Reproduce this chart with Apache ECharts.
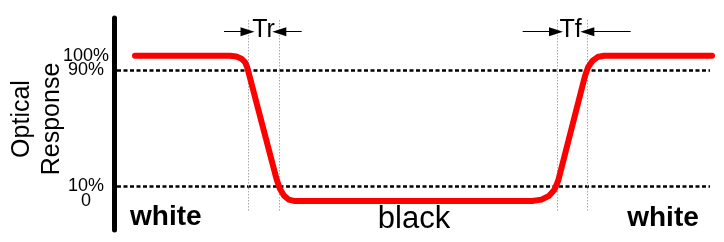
<!DOCTYPE html>
<html>
<head>
<meta charset="utf-8">
<script src="https://cdn.jsdelivr.net/npm/echarts@6/dist/echarts.min.js"></script>
<style>
html,body{margin:0;padding:0;background:#fff;}
#chart{width:724px;height:242px;}
</style>
</head>
<body>
<div id="chart"></div>
<script>
// Optical response (%) over time (arbitrary units)
var responseTime = [21, 116, 122.4, 127.4, 131, 133.2, 162.6, 165.9, 169.9, 174.6, 180, 418, 427.5, 435, 440.6, 444.2, 471, 474.1, 478.4, 483.6, 490, 598];
var responseValue = [100, 100, 99.5, 98, 95.6, 92.1, 15, 8.4, 3.75, 0.94, 0, 0, 0.9, 3.5, 7.9, 14, 86, 92.1, 96.5, 99.1, 100, 100];

var levelValues = [90, 10];          // dashed reference levels
var levelRange = [3, 596];           // x extent of the dashed levels
var edgeTimes = [134, 165, 443, 473]; // 90% / 10% crossing times
var edgeRange = [124.6, -7.6];       // y extent of the thin edge markers

// tick labels (split over two overlaid axes so none gets hidden)
var yTickValuesA = [0, 90];
var yTickLabelsA = ['0', '90%'];
var yTickValuesB = [10, 100];
var yTickLabelsB = ['10%', '100%'];

var arrowY = 116.6;
var arrowSpans = [[110, 133.5], [187.7, 165.3], [408.7, 442], [516.7, 473.3]];

var axisTitleLines = ['Optical', 'Response'];
var periodLabels = ['white', 'black', 'white'];
var timingLabels = ['Tr', 'Tf'];

var curve = responseTime.map(function (t, i) { return [t, responseValue[i]]; });

var levelLines = levelValues.map(function (v) {
  return [{ coord: [levelRange[0], v] }, { coord: [levelRange[1], v] }];
});
var edgeLines = edgeTimes.map(function (t) {
  return [{ coord: [t, edgeRange[0]] }, { coord: [t, edgeRange[1]] }];
});
var arrowLines = arrowSpans.map(function (s) {
  return [{ coord: [s[0], arrowY] }, { coord: [s[1], arrowY] }];
});

var chart = echarts.init(document.getElementById('chart'), null, { renderer: 'canvas' });
var FONT = 'Liberation Sans, Arial, sans-serif';

function labelCfg(values, labels) {
  return {
    customValues: values,
    hideOverlap: false, showMinLabel: true, showMaxLabel: true,
    margin: 28, align: 'center',
    color: '#000', fontSize: 18, fontFamily: FONT,
    formatter: function (v) { return labels[values.indexOf(v)]; }
  };
}

chart.setOption({
  animation: false,
  backgroundColor: '#fff',
  grid: { left: 114, top: 18, width: 600, height: 212, containLabel: false, outerBoundsMode: 'none' },
  xAxis: { type: 'value', min: 0, max: 600, show: false },
  yAxis: [
    {
      type: 'value', min: -20, max: 126, position: 'left',
      axisLine: { show: true, lineStyle: { color: '#000', width: 5 } },
      axisTick: { show: false },
      splitLine: { show: false },
      axisLabel: labelCfg(yTickValuesA, yTickLabelsA)
    },
    {
      type: 'value', min: -20, max: 126, position: 'left', offset: 0,
      axisLine: { show: false },
      axisTick: { show: false },
      splitLine: { show: false },
      axisLabel: labelCfg(yTickValuesB, yTickLabelsB)
    }
  ],
  series: [
    {
      type: 'line', data: [], z: 1, silent: true,
      markLine: {
        silent: true, symbol: ['none', 'none'], label: { show: false },
        lineStyle: { color: '#000', width: 2.5, type: [4, 2.5] },
        data: levelLines
      }
    },
    {
      type: 'line', data: [], z: 1, silent: true,
      markLine: {
        silent: true, symbol: ['none', 'none'], label: { show: false },
        lineStyle: { color: '#a8a8a8', width: 1, type: [1.5, 1.5] },
        data: edgeLines
      }
    },
    {
      type: 'line', data: [], z: 1, silent: true,
      markLine: {
        silent: true, symbol: ['none', 'triangle'], symbolSize: [9, 14],
        label: { show: false },
        lineStyle: { color: '#000', width: 1, type: 'solid' },
        itemStyle: { color: '#000' },
        data: arrowLines
      }
    },
    {
      type: 'line', data: curve, z: 5, silent: true,
      showSymbol: false, symbol: 'none',
      smooth: false,
      lineStyle: { color: '#ff0000', width: 6, cap: 'round', join: 'round' }
    }
  ],
  graphic: [
    { type: 'text', x: 22.5, y: 119, rotation: Math.PI / 2, style: { x: 0, y: 0, text: axisTitleLines[0], font: '25px ' + FONT, fill: '#000', textAlign: 'center', textVerticalAlign: 'middle' } },
    { type: 'text', x: 52.5, y: 119, rotation: Math.PI / 2, style: { x: 0, y: 0, text: axisTitleLines[1], font: '25px ' + FONT, fill: '#000', textAlign: 'center', textVerticalAlign: 'middle' } },
    { type: 'text', style: { x: 130, y: 217, text: periodLabels[0], font: 'bold 28px ' + FONT, fill: '#000', textAlign: 'left', textVerticalAlign: 'middle' } },
    { type: 'text', style: { x: 414, y: 219, text: periodLabels[1], font: '31px ' + FONT, fill: '#000', textAlign: 'center', textVerticalAlign: 'middle' } },
    { type: 'text', style: { x: 663, y: 218, text: periodLabels[2], font: 'bold 28px ' + FONT, fill: '#000', textAlign: 'center', textVerticalAlign: 'middle' } },
    { type: 'text', style: { x: 263.5, y: 30, text: timingLabels[0], font: '25px ' + FONT, fill: '#000', textAlign: 'center', textVerticalAlign: 'middle' } },
    { type: 'text', style: { x: 570.5, y: 30, text: timingLabels[1], font: '25px ' + FONT, fill: '#000', textAlign: 'center', textVerticalAlign: 'middle' } }
  ]
});
</script>
</body>
</html>
